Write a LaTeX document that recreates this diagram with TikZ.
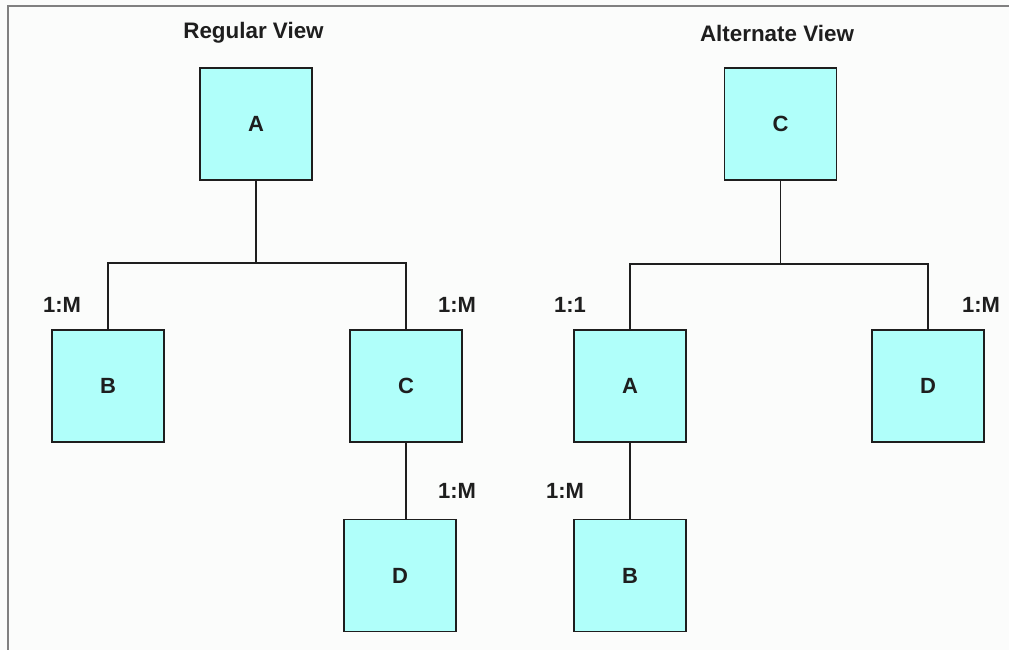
\documentclass[tikz,border=0pt]{standalone}
\usepackage{fontspec}
\setmainfont{Liberation Sans}
\definecolor{bg}{RGB}{251,252,251}
\definecolor{boxfill}{RGB}{176,255,250}
\definecolor{frame}{RGB}{128,128,128}
\definecolor{ink}{RGB}{30,30,30}
\begin{document}
\begin{tikzpicture}[x=1pt,y=-1pt,
  entity/.style={draw=ink,line width=1.6pt,fill=boxfill,minimum width=112pt,minimum height=112pt,inner sep=0pt,font=\fontsize{22}{26}\selectfont\bfseries,text=ink},
  conn/.style={draw=ink,line width=1.6pt},
  card/.style={font=\fontsize{22}{26}\selectfont\bfseries,text=ink,inner sep=0pt},
  heading/.style={font=\fontsize{22.4}{26}\selectfont\bfseries,text=ink,inner sep=0pt}]
\useasboundingbox (0,0) rectangle (1009,650);
\fill[bg] (-2,-2) rectangle (1012,652);
\coordinate (fTL) at (8,6);
\coordinate (fTR) at (1012,6);
\coordinate (fBL) at (8,652);
\draw[frame,line width=2pt] (fTR) -- (fTL) -- (fBL);

% Regular view
\node[heading] (t1) at (253.5,33) {Regular View};
\node[entity] (A) at (256,124) {A};
\node[entity] (B) at (108,386) {B};
\node[entity] (C) at (406,386) {C};
\node[entity] (D) at (400,575.5) {D};
\coordinate (J1) at (256,263);
\draw[conn] (A.south) -- (J1);
\draw[conn] (B.north) |- (J1) -| (C.north);
\draw[conn] (C.south) -- (C.south |- D.north);
\node[card] (l1) at (62,305) {1:M};
\node[card] (l2) at (457,305) {1:M};
\node[card] (l3) at (457,491) {1:M};

% Alternate view
\node[heading] (t2) at (777,33) {Alternate View};
\node[entity] (C2) at (780.5,124) {C};
\node[entity] (A2) at (630,386) {A};
\node[entity] (D2) at (928,386) {D};
\node[entity] (B2) at (630,575.5) {B};
\coordinate (J2) at (780.5,264);
\draw[conn] (C2.south) -- (J2);
\draw[conn] (A2.north) |- (J2) -| (D2.north);
\draw[conn] (A2.south) -- (B2.north);
\node[card] (l4) at (570,305) {1:1};
\node[card] (l5) at (981,305) {1:M};
\node[card] (l6) at (565,491) {1:M};
\end{tikzpicture}
\end{document}
